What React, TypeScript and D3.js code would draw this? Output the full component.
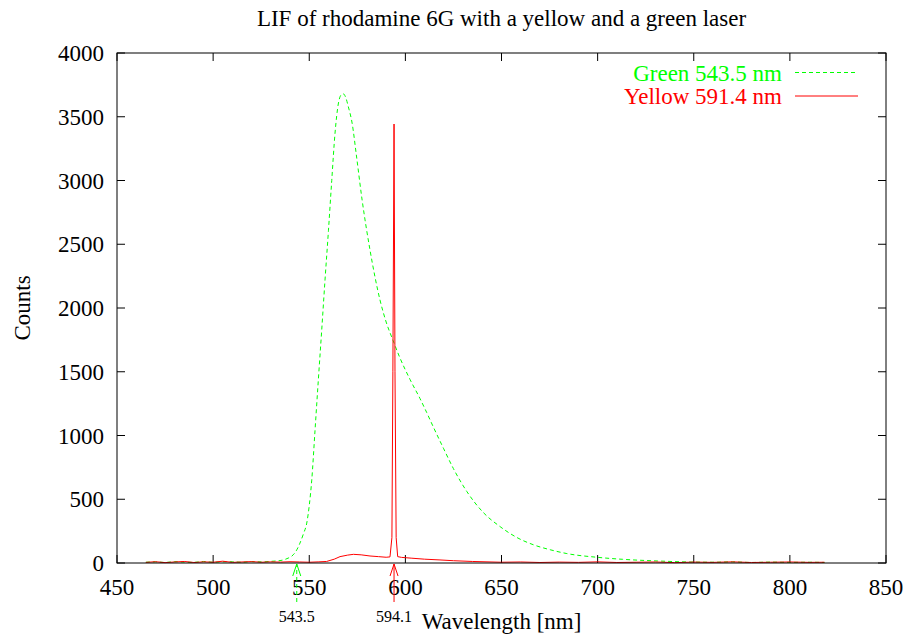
import { scaleLinear, line, curveMonotoneX, curveLinear } from "d3";

// green laser (543.5 nm) spectrum: wavelength [nm], counts
const greenWl = [
  465, 470, 475, 480, 485, 490, 495, 500, 505, 510, 515, 520, 525, 530, 533,
  536, 539, 541, 543, 545, 547, 548.7, 550, 551.3, 553, 554.7, 556.5, 558.2,
  560, 561.7, 563.4, 565.1, 566.5, 567.7, 569, 570.3, 572.3, 574.5, 577.5,
  581.6, 586.8, 590, 593.6, 597, 602.4, 607.6, 611.1, 614.6, 619.8, 625, 632,
  640.6, 649.3, 658, 666.6, 675.3, 684, 699.6, 713, 731, 748, 760, 770, 780,
  790, 800, 810, 818,
];
const greenCounts = [
  6, 9, 4, 11, 7, 5, 12, 6, 9, 10, 6, 11, 9, 13, 16, 22, 38, 55, 90, 150, 230,
  313, 450, 650, 1040, 1430, 1830, 2220, 2610, 3000, 3370, 3600, 3670, 3680,
  3650, 3580, 3450, 3200, 2847, 2455, 2063, 1890, 1745, 1615, 1440, 1290, 1180,
  1065, 900, 740, 560, 395, 285, 200, 143, 104, 74, 45, 29, 16, 8, 6, 9, 4, 7,
  5, 6, 4,
];

// yellow laser (591.4 nm) spectrum
const yellowWl = [
  465, 470, 475, 480, 485, 490, 495, 500, 505, 510, 515, 520, 525, 530, 535,
  540, 545, 550, 555, 559, 563, 566, 570, 573, 577, 581.6, 586, 590, 592, 593,
  593.5, 594.1, 594.6, 595.2, 596, 598, 603, 610, 618, 625, 635, 650, 660, 670,
  680, 690, 700, 710, 720, 730, 740, 750, 760, 770, 780, 790, 800, 810, 818,
];
const yellowCounts = [
  5, 10, 3, 8, 12, 4, 9, 6, 14, 5, 8, 11, 6, 9, 7, 10, 8, 6, 9, 12, 30, 50, 62,
  68, 64, 55, 50, 45, 48, 200, 1500, 3443, 1500, 200, 50, 44, 38, 30, 24, 18,
  12, 6, 8, 4, 7, 5, 9, 4, 6, 8, 3, 7, 5, 9, 4, 6, 8, 5, 6,
];

const xTicks = [450, 500, 550, 600, 650, 700, 750, 800, 850];
const yTicks = [0, 500, 1000, 1500, 2000, 2500, 3000, 3500, 4000];

const legendLabels = ["Green 543.5 nm", "Yellow 591.4 nm"];
const markers = [543.5, 594.1];

const width = 907;
const height = 635;
const margin = { top: 53, right: 21, bottom: 72, left: 117 };
const font = "'Liberation Serif', 'Times New Roman', serif";
const GREEN = "#00ff00";
const RED = "#ff0000";
const tickLen = 8;
const fs = 23;

const App = () => {
  const x = scaleLinear()
    .domain([450, 850])
    .range([margin.left, width - margin.right]);
  const y = scaleLinear()
    .domain([0, 4000])
    .range([height - margin.bottom, margin.top]);

  const mkPath = (wl: number[], c: number[], curve: any) =>
    line<number>()
      .x((d) => x(d))
      .y((d, i) => y(c[i]))
      .curve(curve)(wl) as string;

  const x0 = x(450);
  const x1 = x(850);
  const y0 = y(0);
  const y1 = y(4000);
  const cx = (x0 + x1) / 2;

  return (
    <>
      <style>{`body{margin:0}`}</style>
      <svg width={width} height={height} fontFamily={font}>
        <rect width={width} height={height} fill="white" />
        <text x={cx} y={26} textAnchor="middle" fontSize={fs}>
          LIF of rhodamine 6G with a yellow and a green laser
        </text>

        {/* ticks, mirrored */}
        {xTicks.map((t) => (
          <g key={"x" + t}>
            <line x1={x(t)} x2={x(t)} y1={y0} y2={y0 - tickLen} stroke="black" />
            <line x1={x(t)} x2={x(t)} y1={y1} y2={y1 + tickLen} stroke="black" />
            <text x={x(t)} y={595} textAnchor="middle" fontSize={fs}>
              {t}
            </text>
          </g>
        ))}
        {yTicks.map((t) => (
          <g key={"y" + t}>
            <line x1={x0} x2={x0 + tickLen} y1={y(t)} y2={y(t)} stroke="black" />
            <line x1={x1} x2={x1 - tickLen} y1={y(t)} y2={y(t)} stroke="black" />
            <text
              x={104}
              y={y(t)}
              dy="0.35em"
              textAnchor="end"
              fontSize={fs}
            >
              {t}
            </text>
          </g>
        ))}

        <text x={cx} y={629} textAnchor="middle" fontSize={fs}>
          Wavelength [nm]
        </text>
        <text
          transform={`translate(30,${(y0 + y1) / 2}) rotate(-90)`}
          textAnchor="middle"
          fontSize={fs}
        >
          Counts
        </text>

        <path
          d={mkPath(greenWl, greenCounts, curveMonotoneX)}
          fill="none"
          stroke={GREEN}
          strokeWidth={1}
          strokeDasharray="4,3"
        />
        <path
          d={mkPath(yellowWl, yellowCounts, curveLinear)}
          fill="none"
          stroke={RED}
          strokeWidth={1}
        />

        {/* laser markers below the axis */}
        {markers.map((m, i) => {
          const col = i === 0 ? GREEN : RED;
          const mx = x(m);
          return (
            <g key={m}>
              <line
                x1={mx}
                x2={mx}
                y1={602}
                y2={y0 + 1}
                stroke={col}
                strokeDasharray={i === 0 ? "4,3" : undefined}
              />
              <path
                d={`M${mx - 4},${y0 + 13} L${mx},${y0 + 1} L${mx + 4},${y0 + 13}`}
                fill="none"
                stroke={col}
              />
              <text x={mx} y={622} textAnchor="middle" fontSize={16}>
                {m}
              </text>
            </g>
          );
        })}

        {/* legend */}
        {legendLabels.map((l, i) => {
          const col = i === 0 ? GREEN : RED;
          const ly = 72.5 + i * 23.5;
          return (
            <g key={l}>
              <text x={782} y={ly} dy="0.35em" textAnchor="end" fontSize={fs} fill={col}>
                {l}
              </text>
              <line
                x1={795}
                x2={858}
                y1={ly}
                y2={ly}
                stroke={col}
                strokeDasharray={i === 0 ? "4,3" : undefined}
              />
            </g>
          );
        })}

        <rect
          x={x0}
          y={y1}
          width={x1 - x0}
          height={y0 - y1}
          fill="none"
          stroke="black"
        />
      </svg>
    </>
  );
};

export default App;
